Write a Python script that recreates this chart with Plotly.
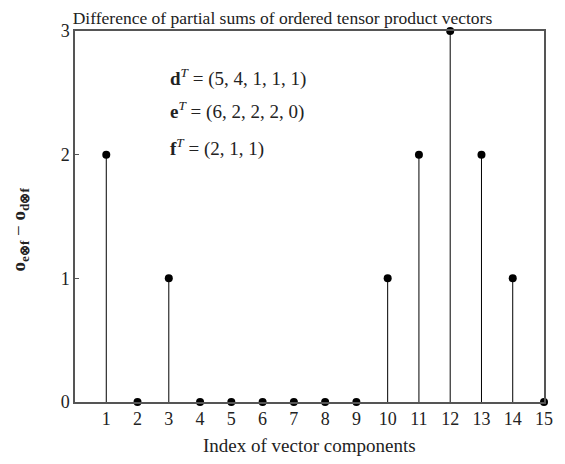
import plotly.graph_objects as go

index = list(range(1, 16))
diff = [2, 0, 1, 0, 0, 0, 0, 0, 0, 1, 2, 3, 2, 1, 0]
y_ticks = [0, 1, 2, 3]
vector_lines = [
    "<b>d</b><sup><i>T</i></sup> = (5, 4, 1, 1, 1)",
    "<b>e</b><sup><i>T</i></sup> = (6, 2, 2, 2, 0)",
    "<b>f</b><sup><i>T</i></sup> = (2, 1, 1)",
]
line_y = [0.876, 0.787, 0.685]

font = "Liberation Serif"
ink = "#222"

fig = go.Figure(go.Scatter(
    x=index, y=diff, mode="markers",
    marker=dict(color="black", size=8),
    error_y=dict(type="data", symmetric=False, array=[0] * len(diff),
                 arrayminus=diff, width=0, thickness=1, color="black"),
    cliponaxis=False,
))

for txt, yy in zip(vector_lines, line_y):
    fig.add_annotation(x=0.198, y=yy, xref="paper", yref="paper",
                       text=txt, showarrow=False, xanchor="left", yanchor="middle",
                       font=dict(family=font, size=19, color=ink))

# axis titles placed as annotations so they don't move the plot area
fig.add_annotation(x=-0.118, y=0.464, xref="paper", yref="paper",
                   text="<b>o</b><sub><b>e⊗f</b></sub> − <b>o</b><sub><b>d⊗f</b></sub>",
                   showarrow=False, textangle=-90, xanchor="center", yanchor="middle",
                   font=dict(family=font, size=19, color=ink))
fig.add_annotation(x=0.5, y=-0.117, xref="paper", yref="paper",
                   text="Index of vector components",
                   showarrow=False, xanchor="center", yanchor="middle",
                   font=dict(family=font, size=19, color=ink))

# the page has an 8px body margin, so the figure is shrunk to fit the window
fig.update_layout(
    width=549, height=448,
    margin=dict(l=67, r=13, t=23, b=54, autoexpand=False),
    plot_bgcolor="white", paper_bgcolor="white",
    showlegend=False,
    font=dict(family=font, size=18, color=ink),
    title=dict(text="Difference of partial sums of ordered tensor product vectors",
               x=0.5, xanchor="center", y=0.977, yanchor="middle",
               font=dict(family=font, size=17.5, color=ink)),
)
fig.update_xaxes(range=[0, 15], tickvals=index, showgrid=False, zeroline=False,
                 showline=True, linecolor="#555", linewidth=1.5, mirror=True,
                 ticks="", automargin=False)
fig.update_yaxes(range=[0, 3], tickvals=y_ticks, showgrid=False, zeroline=False,
                 showline=True, linecolor="#555", linewidth=1.5, mirror=True,
                 ticks="inside", ticklen=4, tickcolor="#555", automargin=False)

fig.write_html("out.html")
